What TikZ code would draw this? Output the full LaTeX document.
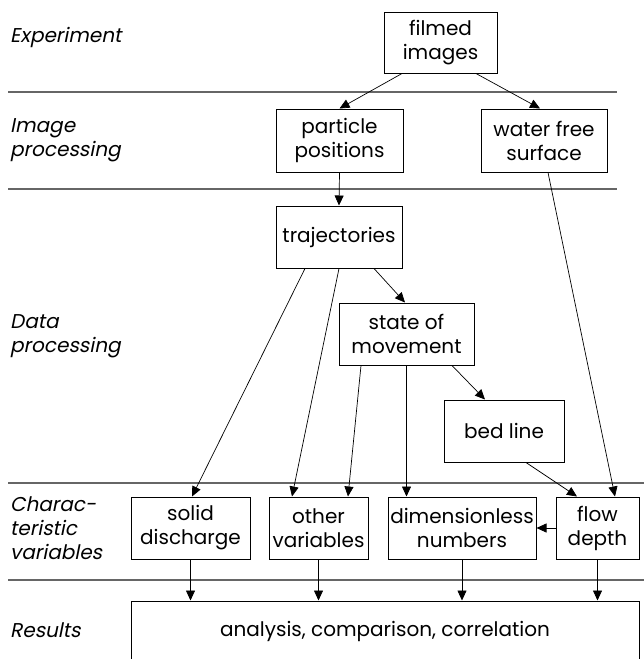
\documentclass[tikz,border=0pt]{standalone}
\usepackage{fontspec}
\setmainfont{Poppins}
\newfontfamily\slfont[FakeSlant=0.2]{Poppins}
\usetikzlibrary{arrows.meta}
\begin{document}
\begin{tikzpicture}[x=1pt,y=-1pt,
 box/.style={draw, line width=1pt, inner sep=0pt, align=center, font=\fontsize{20}{24}\selectfont},
 lab/.style={anchor=west, align=left, inner sep=0pt, font=\slfont\fontsize{20}{24}\selectfont},
 sep/.style={draw=black!60, line width=1.3pt},
 arr/.style={-{Triangle[length=10pt,width=9pt]}, line width=0.7pt}]
\useasboundingbox (0,0) rectangle (644,659);
% separators
\draw[sep] (8,92) -- (617,92);
\draw[sep] (8,189) -- (617,189);
\draw[sep] (8,483) -- (644,483);
\draw[sep] (8,580) -- (644,580);
% labels
\node[lab] (l1) at (10,37) {Experiment};
\node[lab] (l2) at (10,140) {Image\\processing};
\node[lab] (l3) at (10,336) {Data\\processing};
\node[lab] (l4) at (10,528) {Charac-\\teristic\\variables};
\node[lab] (l5) at (10,630) {Results};
% boxes
\node[box, minimum width=113pt, minimum height=61pt] (film) at (440.5,42.5) {filmed\\images};
\node[box, minimum width=127pt, minimum height=63pt] (part) at (339.5,140.5) {particle\\positions};
\node[box, minimum width=126pt, minimum height=63pt] (water) at (544,140.5) {water free\\surface};
\node[box, minimum width=126pt, minimum height=62pt] (traj) at (339,237) {trajectories};
\node[box, minimum width=135pt, minimum height=62pt] (state) at (406.5,334) {state of\\movement};
\node[box, minimum width=120pt, minimum height=62pt] (bed) at (504,431) {bed line};
\node[box, minimum width=119pt, minimum height=62pt] (solid) at (190.5,528) {solid\\discharge};
\node[box, minimum width=99pt, minimum height=62pt] (other) at (318.5,528) {other\\variables};
\node[box, minimum width=148pt, minimum height=62pt] (dimless) at (462,528) {dimensionless\\numbers};
\node[box, minimum width=83pt, minimum height=62pt] (flow) at (597.5,528) {flow\\depth};
\node[box, minimum width=508pt, minimum height=60pt] (res) at (385,631) {analysis, comparison, correlation};
% connectors
\draw[arr] ([xshift=-38.5pt]film.south) -- (part.north);
\draw[arr] ([xshift=35.5pt]film.south) -- ([xshift=-4pt]water.north);
\draw[arr] (part.south) -- (traj.north);
\draw[arr] ([xshift=4pt]water.south) -- ([xshift=17.5pt]flow.north);
\draw[arr] ([xshift=-34pt]traj.south) -- ([xshift=1.5pt]solid.north);
\draw[arr] (traj.south) -- ([xshift=-26.5pt]other.north);
\draw[arr] ([xshift=35pt]traj.south) -- ([xshift=-1.5pt]state.north);
\draw[arr] ([xshift=-45.5pt]state.south) -- ([xshift=29.5pt]other.north);
\draw[arr] (state.south) -- (state.south |- dimless.north);
\draw[arr] ([xshift=45.5pt]state.south) -- ([xshift=-19pt]bed.north);
\draw[arr] ([xshift=22pt]bed.south) -- ([xshift=-20.5pt]flow.north);
\draw[arr] (flow.west) -- (dimless.east);
\draw[arr] (solid.south) -- (solid.south |- res.north);
\draw[arr] (other.south) -- (other.south |- res.north);
\draw[arr] (dimless.south) -- (dimless.south |- res.north);
\draw[arr] (flow.south) -- (flow.south |- res.north);
\end{tikzpicture}
\end{document}
